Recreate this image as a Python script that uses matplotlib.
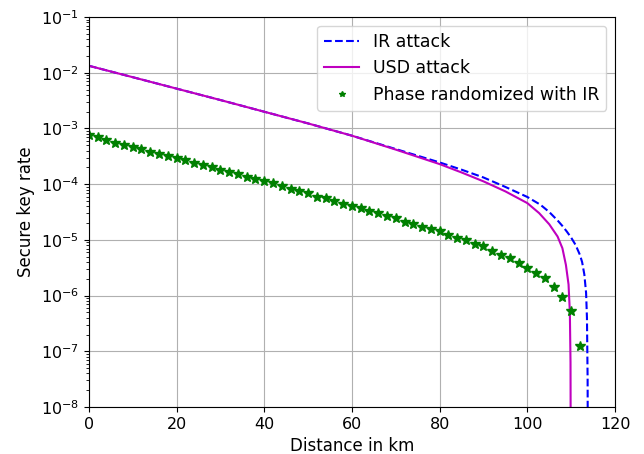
import numpy as np
import matplotlib
matplotlib.use("Agg")
import matplotlib.pyplot as plt

# IR attack curve (distance km, log10 key rate)
ir_x = [0, 10, 20, 30, 40, 50, 60, 70, 80, 85, 90, 95, 100, 103, 105, 107, 108,
        109, 110, 111, 112, 112.5, 113, 113.4, 113.6, 113.75, 113.8]
ir_log10 = [-1.875, -2.08, -2.285, -2.49, -2.70, -2.91, -3.13, -3.37, -3.61, -3.74,
            -3.88, -4.05, -4.23, -4.37, -4.50, -4.66, -4.75, -4.85, -4.96, -5.09,
            -5.27, -5.40, -5.62, -5.95, -6.4, -7.5, -9.0]

# USD attack curve
usd_x = [0, 10, 20, 30, 40, 50, 60, 70, 80, 85, 90, 95, 100, 102.7, 105,
         106.9, 108, 108.8, 109.4, 109.7, 109.85, 109.9]
usd_log10 = [-1.875, -2.08, -2.285, -2.49, -2.70, -2.91, -3.13, -3.38, -3.64, -3.79,
             -3.95, -4.13, -4.34, -4.52, -4.72, -4.94, -5.15, -5.45, -5.80, -6.30,
             -7.2, -9.0]

# Phase randomized with IR (every 2 km)
pr_x = list(range(0, 113, 2))
pr_log10 = [-3.124, -3.154, -3.213, -3.254, -3.296, -3.331, -3.367, -3.420, -3.456,
            -3.497, -3.527, -3.568, -3.621, -3.657, -3.698, -3.740, -3.775, -3.817,
            -3.864, -3.905, -3.947, -3.988, -4.040, -4.095, -4.125, -4.166, -4.226,
            -4.255, -4.297, -4.356, -4.392, -4.427, -4.475, -4.522, -4.570, -4.611,
            -4.671, -4.712, -4.760, -4.801, -4.843, -4.920, -4.961, -5.009, -5.068,
            -5.118, -5.195, -5.266, -5.325, -5.408, -5.497, -5.598, -5.692, -5.840,
            -6.030, -6.278, -6.905]

ir_y = 10 ** np.array(ir_log10)
usd_y = 10 ** np.array(usd_log10)
pr_y = 10 ** np.array(pr_log10)

plt.rcParams['font.family'] = ['DejaVu Sans']
plt.rcParams['font.size'] = 11

fig = plt.figure(figsize=(6.44, 4.54), dpi=100)
ax = fig.add_axes([0.138, 0.1035, 0.817, 0.859])

ax.semilogy(ir_x, ir_y, 'b--', lw=1.5, label='IR attack')
ax.semilogy(usd_x, usd_y, 'm-', lw=1.5, label='USD attack')
ax.semilogy(pr_x, pr_y, 'g*', ms=7, label='Phase randomized with IR')

ax.set_xlim(0, 120)
ax.set_ylim(1e-8, 1e-1)
ax.grid(True, which='major', color='#b0b0b0', lw=0.8)
ax.tick_params(labelsize=11.5)
ax.set_xlabel('Distance in km', fontsize=12)
ax.set_ylabel('Secure key rate', fontsize=12)
ax.legend(loc='upper right', fontsize=12.5, markerscale=0.6)

fig.savefig('out.png', dpi=100)
